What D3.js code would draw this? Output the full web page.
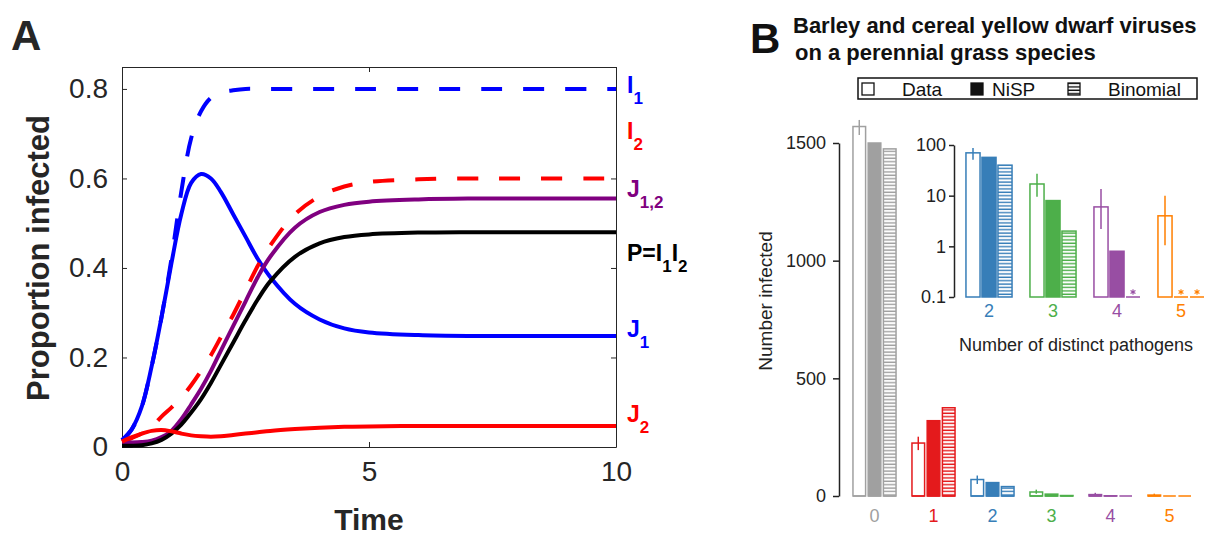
<!DOCTYPE html>
<meta charset="utf-8">
<style>
	body { margin: 0; background: #fff; }
	svg { display: block; font-family: "Liberation Sans", Arial, sans-serif; }
	.axA path, .axA line { stroke: #262626; stroke-width: 1; }
	.axA text { font-size: 28px; fill: #262626; }
	.axB path, .axB line { stroke: #222; stroke-width: 1.5; }
	.axB text { font-size: 18px; fill: #222; }
</style>
<body>
<script src="https://d3js.org/d3.v7.min.js"></script>
<script>

	// Panel A: time courses
	var times = [0, 0.2, 0.4, 0.6, 0.8, 1.0, 1.2, 1.4, 1.6, 1.8, 2.0, 2.25, 2.5, 2.75, 3.0, 3.5, 4.0, 4.5, 5, 6, 7, 8, 10];
	var I1  = [0.015, 0.04, 0.09, 0.18, 0.29, 0.42, 0.57, 0.69, 0.75, 0.78, 0.792, 0.797, 0.80, 0.80, 0.80, 0.80, 0.80, 0.80, 0.80, 0.80, 0.80, 0.80, 0.80];
	var I2  = [0.012, 0.02, 0.03, 0.045, 0.068, 0.088, 0.11, 0.138, 0.17, 0.205, 0.245, 0.295, 0.35, 0.405, 0.45, 0.52, 0.56, 0.582, 0.592, 0.598, 0.60, 0.60, 0.60];
	var J1  = [0.015, 0.04, 0.09, 0.18, 0.29, 0.41, 0.52, 0.59, 0.61, 0.60, 0.57, 0.52, 0.47, 0.42, 0.38, 0.32, 0.285, 0.265, 0.256, 0.25, 0.248, 0.248, 0.248];
	var J2  = [0.012, 0.022, 0.03, 0.036, 0.038, 0.035, 0.03, 0.026, 0.024, 0.023, 0.024, 0.027, 0.03, 0.033, 0.036, 0.04, 0.043, 0.045, 0.046, 0.047, 0.047, 0.047, 0.047];
	var J12 = [0.01, 0.01, 0.011, 0.014, 0.022, 0.036, 0.062, 0.095, 0.13, 0.17, 0.215, 0.27, 0.325, 0.38, 0.425, 0.49, 0.525, 0.541, 0.548, 0.553, 0.555, 0.555, 0.555];
	var P   = [0.003, 0.003, 0.004, 0.008, 0.016, 0.03, 0.05, 0.077, 0.107, 0.143, 0.183, 0.233, 0.283, 0.33, 0.37, 0.425, 0.455, 0.469, 0.475, 0.479, 0.48, 0.48, 0.48];
	var xTicksA = [0, 5, 10];
	var yTicksA = [0, 0.2, 0.4, 0.6, 0.8];

	// Panel B: counts of hosts by number of distinct pathogens
	var groups = ["0", "1", "2", "3", "4", "5"];
	var seriesNames = ["Data", "NiSP", "Binomial"];
	var dataVals  = [1570, 225, 70, 17, 6, 4];
	var nispVals  = [1500, 320, 57, 8, 0.8, 0];
	var binomVals = [1475, 375, 40, 2, 0, 0];
	var errLow  = [1534, 195, 51, 9.5, 2.2, 1.05];
	var errHigh = [1598, 252, 87, 27, 13.5, 10];
	var groupColors = ["#a0a0a0", "#e41a1c", "#377eb8", "#4daf4a", "#984ea3", "#ff7f00"];
	var yTicksB = [0, 500, 1000, 1500];
	var insetGroups = ["2", "3", "4", "5"];
	var insetTicks = [0.1, 1, 10, 100];

	var svg = d3.select("body").append("svg")
		.attr("width", 1206)
		.attr("height", 536);

	// ---------- Panel A ----------
	var xA = d3.scaleLinear().domain([0, 10]).range([122, 616]);
	var yA = d3.scaleLinear().domain([0, 0.849]).range([447, 67]);

	var fmtA = function(d) { return d === 0 ? "0" : d3.format(".1f")(d); };

	svg.append("g").attr("class", "axA")
		.attr("transform", "translate(0,447)")
		.call(d3.axisBottom(xA).tickValues(xTicksA).tickSize(-5).tickSizeOuter(0).tickPadding(14));
	svg.append("g").attr("class", "axA")
		.attr("transform", "translate(0,67)")
		.call(d3.axisTop(xA).tickValues(xTicksA).tickSize(-5).tickSizeOuter(0).tickFormat(""));
	svg.append("g").attr("class", "axA")
		.attr("transform", "translate(122,0)")
		.call(d3.axisLeft(yA).tickValues(yTicksA).tickSize(-5).tickSizeOuter(0).tickPadding(14).tickFormat(fmtA));
	svg.append("g").attr("class", "axA")
		.attr("transform", "translate(616,0)")
		.call(d3.axisRight(yA).tickValues(yTicksA).tickSize(-5).tickSizeOuter(0).tickFormat(""));

	var curves = [
		{ v: I1, color: "#0000ff", dash: "21,21" },
		{ v: J1, color: "#0000ff", dash: null },
		{ v: I2, color: "#ff0000", dash: "21,21" },
		{ v: J12, color: "#800080", dash: null },
		{ v: P, color: "#000000", dash: null },
		{ v: J2, color: "#ff0000", dash: null }
	];

	var line = d3.line()
		.x(function(d, i) { return xA(times[i]); })
		.y(function(d) { return yA(d); })
		.curve(d3.curveCatmullRom.alpha(0.5));

	svg.append("g").selectAll("path")
		.data(curves)
		.enter()
		.append("path")
		.attr("d", function(d) { return line(d.v); })
		.attr("fill", "none")
		.attr("stroke", function(d) { return d.color; })
		.attr("stroke-width", 4)
		.attr("stroke-dasharray", function(d) { return d.dash; });

	// curve labels on the right, pieces are [text, isSubscript]
	var lineLabels = [
		{ parts: [["I", 0], ["1", 1]], color: "#0000ff", y: 93 },
		{ parts: [["I", 0], ["2", 1]], color: "#ff0000", y: 139 },
		{ parts: [["J", 0], ["1,2", 1]], color: "#800080", y: 197 },
		{ parts: [["P=I", 0], ["1", 1], ["I", 0], ["2", 1]], color: "#000000", y: 261 },
		{ parts: [["J", 0], ["1", 1]], color: "#0000ff", y: 337 },
		{ parts: [["J", 0], ["2", 1]], color: "#ff0000", y: 422 }
	];

	lineLabels.forEach(function(lab) {
		var t = svg.append("text")
			.attr("x", 627)
			.attr("y", lab.y)
			.attr("fill", lab.color)
			.attr("font-weight", "bold")
			.attr("font-size", "23px");
		var down = false;
		lab.parts.forEach(function(p) {
			var ts = t.append("tspan").text(p[0]);
			if (p[1]) {
				ts.attr("font-size", "17px").attr("dy", down ? 0 : 11);
				down = true;
			} else {
				ts.attr("dy", down ? -11 : 0);
				down = false;
			}
		});
	});

	svg.append("text")
		.attr("transform", "translate(49,258) rotate(-90)")
		.attr("text-anchor", "middle")
		.attr("font-weight", "bold")
		.attr("font-size", "31px")
		.attr("fill", "#262626")
		.text("Proportion infected");

	svg.append("text")
		.attr("x", 369)
		.attr("y", 530)
		.attr("text-anchor", "middle")
		.attr("font-weight", "bold")
		.attr("font-size", "30px")
		.attr("fill", "#262626")
		.text("Time");

	svg.append("text")
		.attr("x", 11)
		.attr("y", 50)
		.attr("font-weight", "bold")
		.attr("font-size", "42px")
		.attr("fill", "#262626")
		.text("A");

	// ---------- Panel B ----------
	svg.append("text")
		.attr("x", 750)
		.attr("y", 53)
		.attr("font-weight", "bold")
		.attr("font-size", "42px")
		.attr("fill", "#111")
		.text("B");

	svg.append("text")
		.attr("x", 793)
		.attr("y", 33)
		.attr("font-weight", "bold")
		.attr("font-size", "22px")
		.attr("fill", "#111")
		.text("Barley and cereal yellow dwarf viruses");
	svg.append("text")
		.attr("x", 795)
		.attr("y", 60)
		.attr("font-weight", "bold")
		.attr("font-size", "22px")
		.attr("fill", "#111")
		.text("on a perennial grass species");

	// hatch patterns, one per colour
	var defs = svg.append("defs");
	groupColors.concat(["#111"]).forEach(function(c, i) {
		var pat = defs.append("pattern")
			.attr("id", "hatch" + i)
			.attr("patternUnits", "userSpaceOnUse")
			.attr("width", 6)
			.attr("height", 3.4);
		pat.append("rect").attr("width", 6).attr("height", 3.4).attr("fill", "#fff");
		pat.append("rect").attr("y", 1.2).attr("width", 6).attr("height", 1.4).attr("fill", c);
	});

	function barFill(s, gi) {
		if (s === 0) return "#fff";
		if (s === 1) return groupColors[gi];
		return "url(#hatch" + gi + ")";
	}

	// legend
	var leg = svg.append("g");
	leg.append("rect")
		.attr("x", 858).attr("y", 78)
		.attr("width", 339).attr("height", 21)
		.attr("fill", "#fff").attr("stroke", "#111").attr("stroke-width", 1.5);
	var legX = [862, 971, 1068];
	var legTextX = [902, 992, 1108];
	seriesNames.forEach(function(name, s) {
		leg.append("rect")
			.attr("x", legX[s]).attr("y", 83)
			.attr("width", 12).attr("height", 12)
			.attr("fill", s === 0 ? "#fff" : (s === 1 ? "#111" : "url(#hatch6)"))
			.attr("stroke", "#111").attr("stroke-width", 1.3);
		leg.append("text")
			.attr("x", legTextX[s]).attr("y", 96)
			.attr("font-size", "19px").attr("fill", "#111")
			.text(name);
	});

	var valsBySeries = [dataVals, nispVals, binomVals];

	// main bars
	var xB = d3.scaleBand().domain(groups).range([845, 1199]).paddingInner(0.27).paddingOuter(0.135);
	var xBs = d3.scaleBand().domain(seriesNames).range([0, xB.bandwidth()]).paddingInner(0.17);
	var yB = d3.scaleLinear().domain([0, 1500]).range([496, 143]);

	svg.append("g").attr("class", "axB")
		.attr("transform", "translate(839,0)")
		.call(d3.axisLeft(yB).tickValues(yTicksB).tickSize(6).tickSizeOuter(0).tickPadding(7).tickFormat(d3.format("d")));

	svg.append("text")
		.attr("transform", "translate(772,301) rotate(-90)")
		.attr("text-anchor", "middle")
		.attr("font-size", "19px")
		.attr("fill", "#222")
		.text("Number infected");

	var mainG = svg.append("g");
	groups.forEach(function(g, gi) {
		seriesNames.forEach(function(s, si) {
			var v = valsBySeries[si][gi];
			var x0 = xB(g) + xBs(s);
			mainG.append("rect")
				.attr("x", x0)
				.attr("y", yB(v))
				.attr("width", xBs.bandwidth())
				.attr("height", yB(0) - yB(v))
				.attr("fill", barFill(si, gi))
				.attr("stroke", groupColors[gi])
				.attr("stroke-width", 1.5);
			mainG.append("line")
				.attr("x1", x0).attr("x2", x0 + xBs.bandwidth())
				.attr("y1", yB(0)).attr("y2", yB(0))
				.attr("stroke", groupColors[gi]).attr("stroke-width", 1.5);
		});
		var cx = xB(g) + xBs("Data") + xBs.bandwidth() / 2;
		mainG.append("line")
			.attr("x1", cx).attr("x2", cx)
			.attr("y1", yB(errLow[gi])).attr("y2", yB(errHigh[gi]))
			.attr("stroke", groupColors[gi]).attr("stroke-width", 1.5);
		mainG.append("text")
			.attr("x", xB(g) + xB.bandwidth() / 2)
			.attr("y", 522)
			.attr("text-anchor", "middle")
			.attr("font-size", "18px")
			.attr("fill", groupColors[gi])
			.text(g);
	});

	// inset on log scale
	var xI = d3.scaleBand().domain(insetGroups).range([957, 1213]).paddingInner(0.28).paddingOuter(0.14);
	var xIs = d3.scaleBand().domain(seriesNames).range([0, xI.bandwidth()]).paddingInner(0.12);
	var yI = d3.scaleLog().domain([0.1, 100]).range([297, 145]);

	svg.append("g").attr("class", "axB")
		.attr("transform", "translate(954,0)")
		.call(d3.axisLeft(yI).tickValues(insetTicks).tickSize(5).tickSizeOuter(0).tickPadding(3)
			.tickFormat(function(d) { return d < 1 ? "0.1" : d3.format("d")(d); }));

	var star = d3.symbol().type(d3.symbolAsterisk).size(22);

	var insetG = svg.append("g");
	insetGroups.forEach(function(g) {
		var gi = groups.indexOf(g);
		seriesNames.forEach(function(s, si) {
			var v = valsBySeries[si][gi];
			var x0 = xI(g) + xIs(s);
			var w = xIs.bandwidth();
			if (v > 0) {
				insetG.append("rect")
					.attr("x", x0)
					.attr("y", yI(v))
					.attr("width", w)
					.attr("height", yI(0.1) - yI(v))
					.attr("fill", barFill(si, gi))
					.attr("stroke", groupColors[gi])
					.attr("stroke-width", 1.5);
			} else {
				// zero count: flat bar with a star
				insetG.append("line")
					.attr("x1", x0).attr("x2", x0 + w)
					.attr("y1", yI(0.1)).attr("y2", yI(0.1))
					.attr("stroke", groupColors[gi]).attr("stroke-width", 1.5);
				insetG.append("path")
					.attr("d", star())
					.attr("transform", "translate(" + (x0 + w / 2) + "," + (yI(0.1) - 5) + ")")
					.attr("fill", "none")
					.attr("stroke", groupColors[gi])
					.attr("stroke-width", 1.1);
			}
		});
		var cx = xI(g) + xIs("Data") + xIs.bandwidth() / 2;
		insetG.append("line")
			.attr("x1", cx).attr("x2", cx)
			.attr("y1", yI(errLow[gi])).attr("y2", yI(errHigh[gi]))
			.attr("stroke", groupColors[gi]).attr("stroke-width", 1.5);
		insetG.append("text")
			.attr("x", xI(g) + xI.bandwidth() / 2)
			.attr("y", 317)
			.attr("text-anchor", "middle")
			.attr("font-size", "18px")
			.attr("fill", groupColors[gi])
			.text(g);
	});

	svg.append("text")
		.attr("x", 1076)
		.attr("y", 351)
		.attr("text-anchor", "middle")
		.attr("font-size", "18px")
		.attr("fill", "#222")
		.text("Number of distinct pathogens");

</script>
</body>
